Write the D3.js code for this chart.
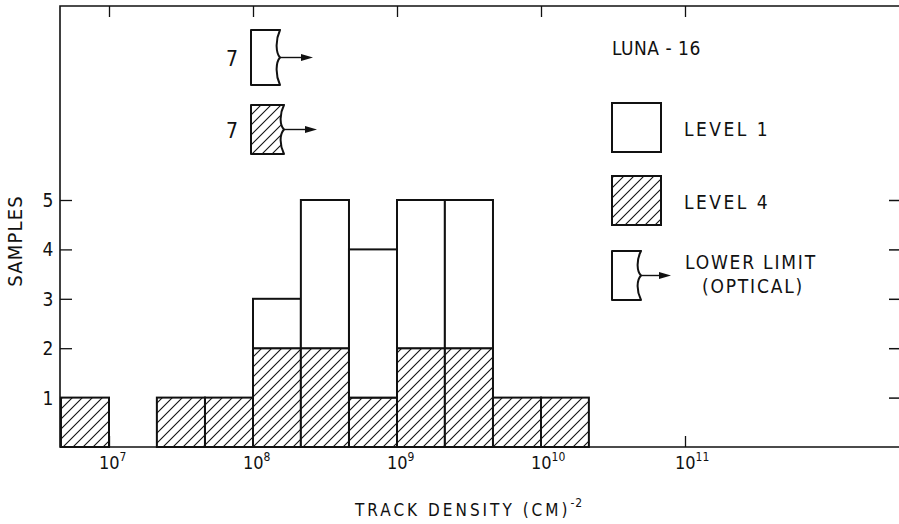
<!DOCTYPE html>
<html>
<head>
<meta charset="utf-8">
<script src="https://cdn.jsdelivr.net/npm/d3@7"></script>
<style>
  body { margin: 0; background: #fff; }
  svg text { font-family: 'Liberation Sans Narrow', 'DejaVu Sans Condensed', sans-serif; fill: #111; }
</style>
</head>
<body>
<div id="chart"></div>
<script>
// bins of track density (cm^-2), lower and upper edges
const binLow  = [4.64e6, 1e7, 2.15e7, 4.64e7, 1e8, 2.15e8, 4.64e8, 1e9, 2.15e9, 4.64e9, 1e10];
const binHigh = [1e7, 2.15e7, 4.64e7, 1e8, 2.15e8, 4.64e8, 1e9, 2.15e9, 4.64e9, 1e10, 2.15e10];
// samples per bin (level 1 stacked on top of level 4)
const level4 = [1, 0, 1, 1, 2, 2, 1, 2, 2, 1, 1];
const level1 = [0, 0, 0, 0, 1, 3, 3, 3, 3, 0, 0];
const decades = [1e7, 1e8, 1e9, 1e10, 1e11];
const countTicks = [1, 2, 3, 4, 5];
const lowerLimits = [{ n: 7, hatched: false }, { n: 7, hatched: true }];
const legendLabels = ['LEVEL 1', 'LEVEL 4'];

const W = 899, H = 524,
      LEFT = 60, TOP = 6, BOTTOM = 447, RIGHT = 899;

const x = d3.scaleLog().domain([1e7, 1e10]).range([109, 541]);
const y = d3.scaleLinear().domain([0, 5]).range([BOTTOM, 200]);

const svg = d3.select('#chart').append('svg')
  .attr('width', W).attr('height', H);

// hatch pattern
svg.append('defs').append('pattern')
  .attr('id', 'hatch')
  .attr('patternUnits', 'userSpaceOnUse')
  .attr('width', 10).attr('height', 10)
  .call(p => p.append('rect').attr('width', 10).attr('height', 10).attr('fill', '#fff'))
  .append('path')
  .attr('d', 'M-1,1l2,-2M0,10l10,-10M9,11l2,-2')
  .attr('stroke', '#111').attr('stroke-width', 1.1);

// frame: left, top, bottom (right side is cut off)
svg.append('path')
  .attr('d', `M${RIGHT},${TOP}H${LEFT}V${BOTTOM}H${RIGHT}`)
  .attr('fill', 'none').attr('stroke', '#111').attr('stroke-width', 1.6);

// top and bottom decade ticks
svg.append('g').attr('transform', `translate(0,${TOP})`)
  .call(d3.axisTop(x).tickValues(decades).tickSize(-11).tickFormat(''))
  .call(g => g.select('.domain').remove())
  .selectAll('line').attr('stroke', '#111').attr('stroke-width', 1.3);

svg.append('g').attr('transform', `translate(0,${BOTTOM})`)
  .call(d3.axisBottom(x).tickValues(decades).tickSize(-11).tickFormat(''))
  .call(g => g.select('.domain').remove())
  .selectAll('line').attr('stroke', '#111').attr('stroke-width', 1.3);

// left and right count ticks
svg.append('g').attr('transform', `translate(${LEFT},0)`)
  .call(d3.axisLeft(y).tickValues(countTicks).tickSize(-12).tickFormat(''))
  .call(g => g.select('.domain').remove())
  .selectAll('line').attr('stroke', '#111').attr('stroke-width', 1.3);

svg.append('g').attr('transform', `translate(${RIGHT},0)`)
  .call(d3.axisRight(y).tickValues(countTicks).tickSize(-10).tickFormat(''))
  .call(g => g.select('.domain').remove())
  .selectAll('line').attr('stroke', '#111').attr('stroke-width', 1.5);

// y labels
svg.append('g').selectAll('text')
  .data(countTicks).enter().append('text')
  .attr('x', 48).attr('y', d => y(d) + 7)
  .attr('text-anchor', 'middle')
  .style('font-size', '19px')
  .text(d => d);

// x labels 10^n
const xl = svg.append('g').selectAll('text')
  .data(decades).enter().append('text')
  .attr('x', d => x(d) - 10).attr('y', 469)
  .style('font-size', '18px');
xl.append('tspan').text('10');
xl.append('tspan').attr('dy', -8).style('font-size', '12px')
  .text(d => Math.round(Math.log10(d)));

// bars
const bins = binLow.map((lo, i) => ({ lo, hi: binHigh[i], l4: level4[i], l1: level1[i] }));
const bars = svg.append('g');
bars.selectAll('rect.l4')
  .data(bins.filter(d => d.l4 > 0)).enter().append('rect')
  .attr('class', 'l4')
  .attr('x', d => x(d.lo)).attr('width', d => x(d.hi) - x(d.lo))
  .attr('y', d => y(d.l4)).attr('height', d => y(0) - y(d.l4))
  .attr('fill', 'url(#hatch)').attr('stroke', '#111').attr('stroke-width', 2);
bars.selectAll('rect.l1')
  .data(bins.filter(d => d.l1 > 0)).enter().append('rect')
  .attr('class', 'l1')
  .attr('x', d => x(d.lo)).attr('width', d => x(d.hi) - x(d.lo))
  .attr('y', d => y(d.l4 + d.l1)).attr('height', d => y(d.l4) - y(d.l4 + d.l1))
  .attr('fill', '#fff').attr('stroke', '#111').attr('stroke-width', 2);

// lower limit symbol: box with brace-shaped right edge and arrow
const limitPath = (w, h) =>
  `M${w},0H0V${h}H${w}C${w - 5},${h * 0.8} ${w - 4},${h * 0.58} ${w},${h / 2}` +
  `C${w - 4},${h * 0.42} ${w - 5},${h * 0.2} ${w},0Z`;
const drawLimit = (g, w, h, len, hatched) => {
  g.append('path').attr('d', limitPath(w, h))
    .attr('fill', hatched ? 'url(#hatch)' : '#fff')
    .attr('stroke', '#111').attr('stroke-width', 2).attr('stroke-linejoin', 'round');
  g.append('line').attr('x1', w).attr('x2', w + len - 8).attr('y1', h / 2).attr('y2', h / 2)
    .attr('stroke', '#111').attr('stroke-width', 1.4);
  g.append('path').attr('d', `M${w + len},${h / 2}l-12,-3.5v7z`).attr('fill', '#111');
};

const limitPos = [{ x: 251, y: 30, w: 29, h: 55 }, { x: 251, y: 105, w: 33, h: 49 }];
lowerLimits.forEach((d, i) => {
  const p = limitPos[i];
  const g = svg.append('g').attr('transform', `translate(${p.x},${p.y})`);
  drawLimit(g, p.w, p.h, 33, d.hatched);
  svg.append('text').attr('x', 232).attr('y', p.y + p.h / 2 + 8)
    .attr('text-anchor', 'middle').style('font-size', '21px').text(d.n);
});

// legend
const leg = svg.append('g');
leg.append('text').attr('x', 612).attr('y', 55)
  .style('font-size', '19px').style('letter-spacing', '0.5px').text('LUNA - 16');
legendLabels.forEach((lab, i) => {
  const yy = 103 + i * 73;
  leg.append('rect').attr('x', 612).attr('y', yy).attr('width', 49).attr('height', 49)
    .attr('fill', i ? 'url(#hatch)' : '#fff').attr('stroke', '#111').attr('stroke-width', 2);
  leg.append('text').attr('x', 684).attr('y', yy + 33)
    .style('font-size', '19px').style('letter-spacing', '2.5px').text(lab);
});
drawLimit(leg.append('g').attr('transform', 'translate(612,251)'), 29, 49, 30, false);
leg.append('text').attr('x', 685).attr('y', 269)
  .style('font-size', '19px').style('letter-spacing', '1.8px').text('LOWER LIMIT');
leg.append('text').attr('x', 702).attr('y', 293)
  .style('font-size', '19px').style('letter-spacing', '1.8px').text('(OPTICAL)');

// axis titles
svg.append('text')
  .attr('transform', 'translate(22,241) rotate(-90)')
  .attr('text-anchor', 'middle')
  .style('font-size', '20px').style('letter-spacing', '1.2px')
  .text('SAMPLES');

const xt = svg.append('text').attr('x', 355).attr('y', 516)
  .style('font-size', '17px').style('letter-spacing', '3px');
xt.append('tspan').text('TRACK DENSITY (CM)');
xt.append('tspan').attr('dy', -9).style('font-size', '12px').style('letter-spacing', '1px').text('-2');
</script>
</body>
</html>
